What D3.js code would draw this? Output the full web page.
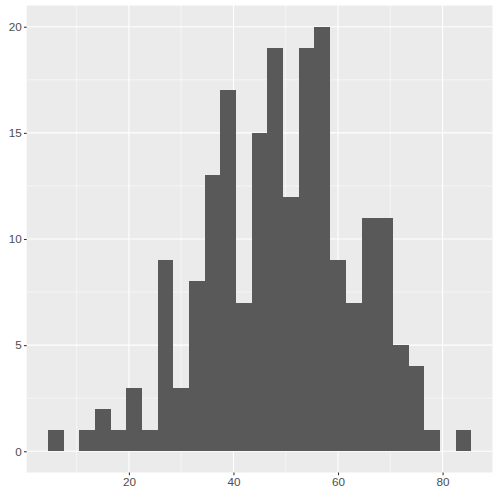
<!DOCTYPE html>
<html><head><meta charset="utf-8">
<script src="https://cdn.jsdelivr.net/npm/d3@7"></script>
<style>body{margin:0;background:#fff}svg{display:block}</style>
</head><body>
<svg id="chart" width="500" height="500"></svg>
<script>
// Histogram bins (binwidth 3), left edges and counts
const binStarts = [4.5,7.5,10.5,13.5,16.5,19.5,22.5,25.5,28.5,31.5,34.5,37.5,40.5,43.5,46.5,49.5,52.5,55.5,58.5,61.5,64.5,67.5,70.5,73.5,76.5,79.5,82.5];
const binCounts = [1,0,1,2,1,3,1,9,3,8,13,17,7,15,19,12,19,20,9,7,11,11,5,4,1,0,1];
const binWidth = 3;
const xTicks = [20,40,60,80];
const xMinor = [10,30,50,70];
const yTicks = [0,5,10,15,20];
const yMinor = [2.5,7.5,12.5,17.5];

const W = 500, H = 500;
const m = {left: 26.7, right: 7.5, top: 5.5, bottom: 27.5};
const svg = d3.select("#chart");

const xLo = binStarts[0], xHi = binStarts[binStarts.length-1] + binWidth;
const xPad = (xHi - xLo) * 0.05;
const yMax = d3.max(binCounts);
const x = d3.scaleLinear().domain([xLo - xPad, xHi + xPad]).range([m.left, W - m.right]);
const y = d3.scaleLinear().domain([-yMax*0.05, yMax*1.05]).range([H - m.bottom, m.top]);

svg.append("rect").attr("x", m.left).attr("y", m.top)
  .attr("width", W - m.left - m.right).attr("height", H - m.top - m.bottom)
  .attr("fill", "#EBEBEB");

const g = svg.append("g");
// minor grid
g.selectAll(".xm").data(xMinor).enter().append("line")
  .attr("x1", d => x(d)).attr("x2", d => x(d)).attr("y1", m.top).attr("y2", H - m.bottom)
  .attr("stroke", "#fff").attr("stroke-width", 0.53);
g.selectAll(".ym").data(yMinor).enter().append("line")
  .attr("y1", d => y(d)).attr("y2", d => y(d)).attr("x1", m.left).attr("x2", W - m.right)
  .attr("stroke", "#fff").attr("stroke-width", 0.53);
// major grid
g.selectAll(".xg").data(xTicks).enter().append("line")
  .attr("x1", d => x(d)).attr("x2", d => x(d)).attr("y1", m.top).attr("y2", H - m.bottom)
  .attr("stroke", "#fff").attr("stroke-width", 1.07);
g.selectAll(".yg").data(yTicks).enter().append("line")
  .attr("y1", d => y(d)).attr("y2", d => y(d)).attr("x1", m.left).attr("x2", W - m.right)
  .attr("stroke", "#fff").attr("stroke-width", 1.07);

// bars
const bins = binStarts.map((s, i) => ({x0: s, x1: s + binWidth, n: binCounts[i]})).filter(d => d.n > 0);
svg.append("g").attr("shape-rendering", "crispEdges").selectAll("rect").data(bins).enter().append("rect")
  .attr("x", d => Math.round(x(d.x0))).attr("width", d => Math.round(x(d.x1)) - Math.round(x(d.x0)))
  .attr("y", d => Math.round(y(d.n))).attr("height", d => Math.round(y(0)) - Math.round(y(d.n)))
  .attr("fill", "#595959");

// axes
const font = "'Liberation Sans', Arial, sans-serif";
const xAxis = svg.append("g").attr("transform", `translate(0,${H - m.bottom})`)
  .call(d3.axisBottom(x).tickValues(xTicks).tickSize(2.74).tickPadding(2.2));
const yAxis = svg.append("g").attr("transform", `translate(${m.left},0)`)
  .call(d3.axisLeft(y).tickValues(yTicks).tickSize(2.74).tickPadding(2.2));
[xAxis, yAxis].forEach(a => {
  a.select(".domain").remove();
  a.selectAll(".tick line").attr("stroke", "#333333").attr("stroke-width", 1.07);
  a.selectAll(".tick text").attr("fill", "#4D4D4D").style("font-family", font).style("font-size", "11.7px");
});
</script>
</body></html>
